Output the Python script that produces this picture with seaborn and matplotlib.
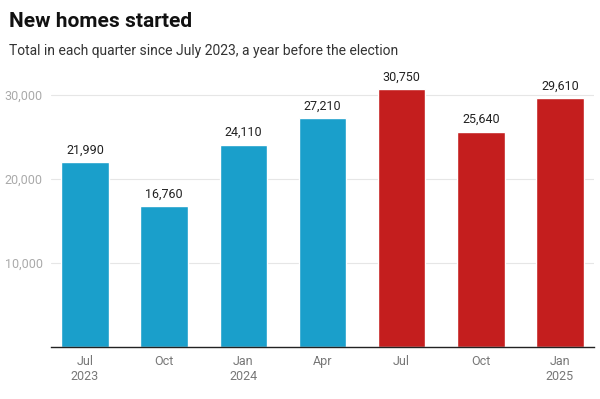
import pandas as pd
import matplotlib.pyplot as plt
import seaborn as sns

# Data
quarters = ["Jul\n2023", "Oct", "Jan\n2024", "Apr", "Jul", "Oct", "Jan\n2025"]
homes = [21990, 16760, 24110, 27210, 30750, 25640, 29610]
period = ["before", "before", "before", "before", "after", "after", "after"]

# quarter labels repeat, so key the bars on a unique id
df = pd.DataFrame({"qid": [f"q{i}" for i in range(len(quarters))],
                   "homes": homes, "period": period})

sns.set_style("white")
plt.rcParams["font.family"] = ["Roboto", "DejaVu Sans"]

fig = plt.figure(figsize=(6, 3.99), dpi=100)
ax = fig.add_axes([0.085, 0.130, 0.905, 0.695])

palette = {"before": "#1a9fcb", "after": "#c41e1e"}
sns.barplot(data=df, x="qid", y="homes", hue="period", palette=palette,
            dodge=False, width=0.6, saturation=1, legend=False, ax=ax)

for i, v in enumerate(homes):
    ax.text(i, v + 650, f"{v:,}", ha="center", va="bottom", fontsize=9, color="#222222")

ax.set_xticks(range(len(quarters)))
ax.set_xticklabels(quarters)
ax.set_ylim(0, 33000)
ax.set_xlim(-0.43, 6.43)
ax.set_yticks([10000, 20000, 30000])
ax.set_yticklabels(["10,000", "20,000", "30,000"])
ax.yaxis.grid(True, color="#e6e6e6", linewidth=0.8)
ax.set_axisbelow(True)
ax.tick_params(axis="y", length=0, labelsize=9, labelcolor="#aaaaaa", pad=6)
ax.tick_params(axis="x", length=0, labelsize=9, labelcolor="#777777", pad=6)
for s in ["top", "right", "left"]:
    ax.spines[s].set_visible(False)
ax.spines["bottom"].set_color("#222222")
ax.spines["bottom"].set_linewidth(1)
ax.set_xlabel("")
ax.set_ylabel("")

fig.text(0.015, 0.945, "New homes started", fontsize=15, fontweight="bold", color="#111111", va="center")
fig.text(0.015, 0.871, "Total in each quarter since July 2023, a year before the election",
         fontsize=10, color="#333333", va="center")

plt.savefig("out.png", dpi=100)
